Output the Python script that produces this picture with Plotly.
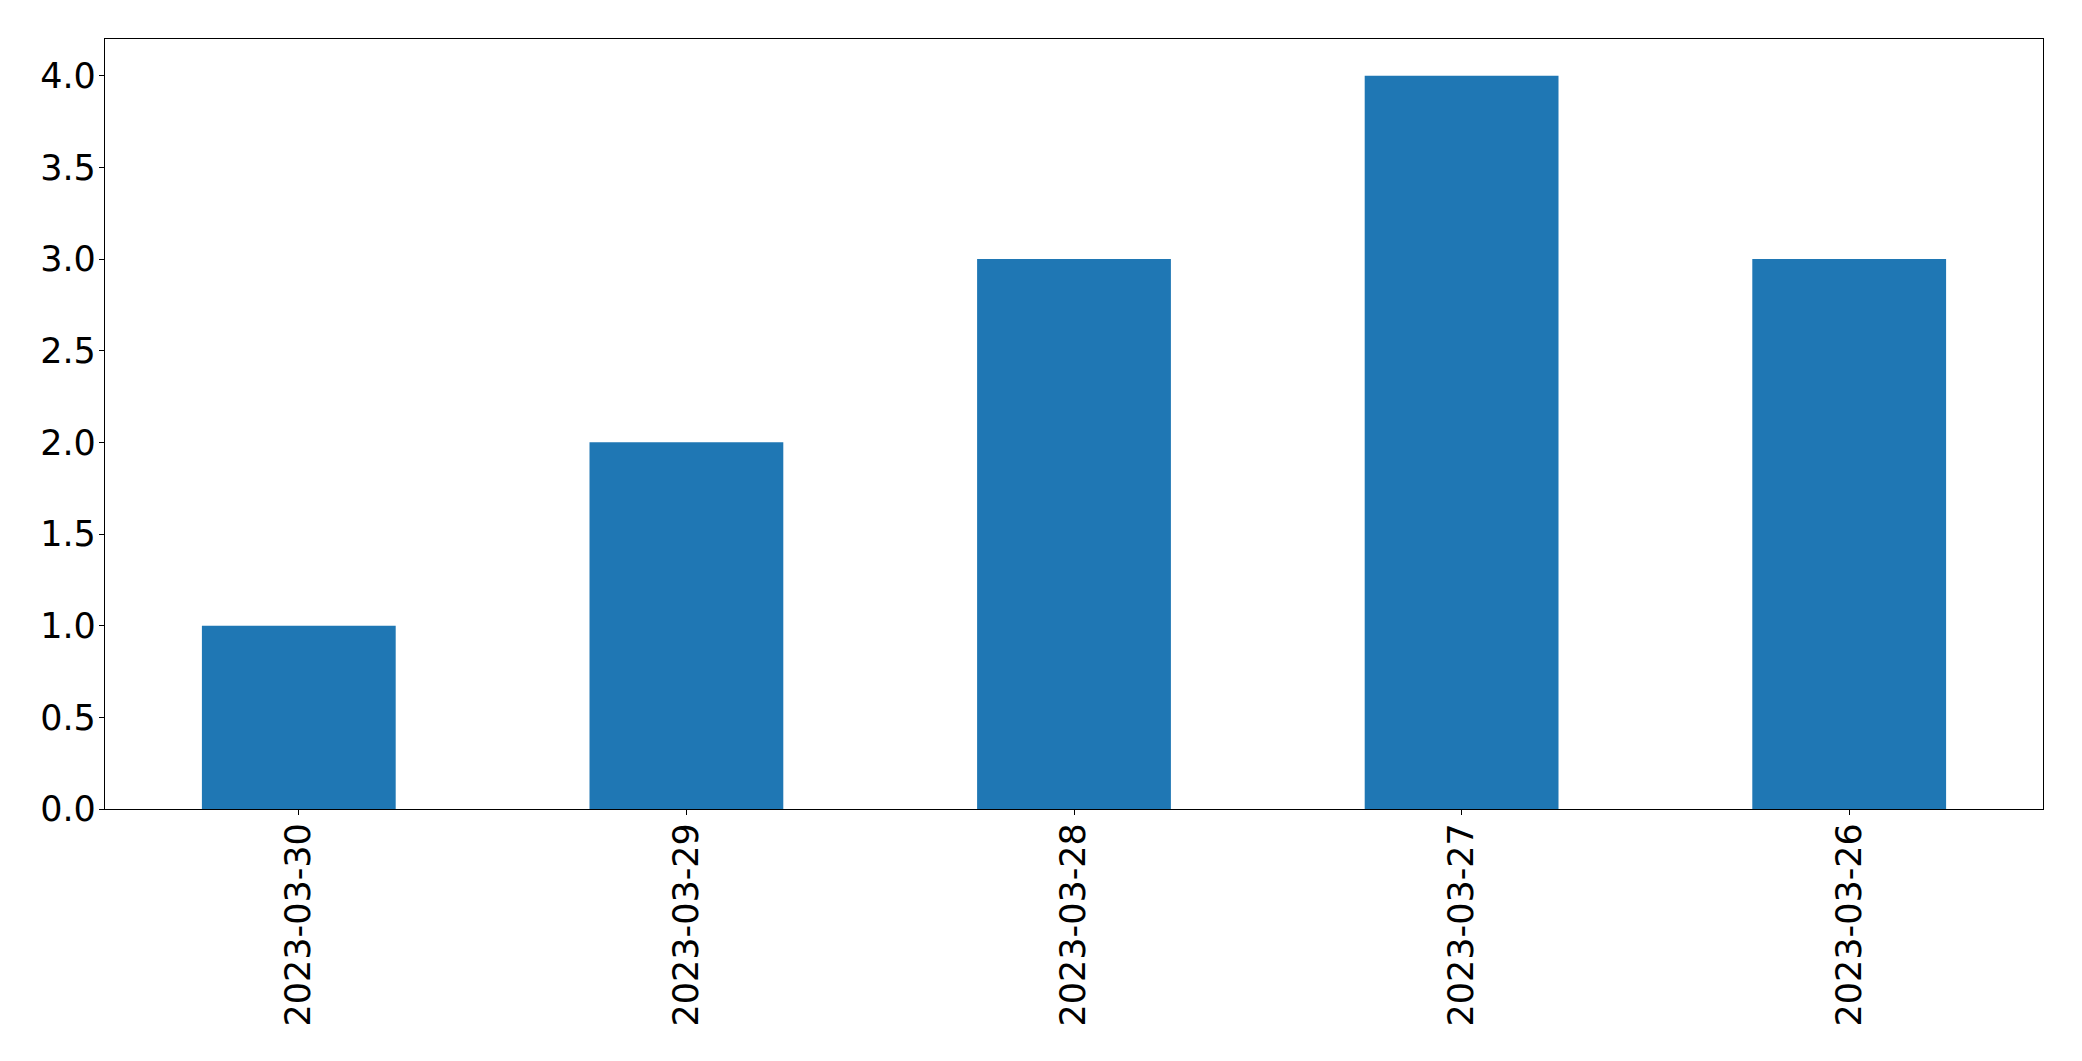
import plotly.graph_objects as go

dates = ["2023-03-30", "2023-03-29", "2023-03-28", "2023-03-27", "2023-03-26"]
counts = [1, 2, 3, 4, 3]
y_ticks = [0.0, 0.5, 1.0, 1.5, 2.0, 2.5, 3.0, 3.5, 4.0]
y_tick_labels = ["0.0", "0.5", "1.0", "1.5", "2.0", "2.5", "3.0", "3.5", "4.0"]

fig = go.Figure(go.Bar(x=dates, y=counts, marker=dict(color="#1f77b4", line=dict(width=0)), width=0.5))

fig.update_layout(
    width=2082, height=1061,
    margin=dict(l=97, r=47, t=31, b=260),
    plot_bgcolor="white", paper_bgcolor="white",
    font=dict(family="DejaVu Sans", size=35, color="black"),
    showlegend=False,
)
fig.update_xaxes(
    type="category", range=[-0.5, 4.5],
    showline=True, linecolor="black", linewidth=1.3, mirror=True,
    ticks="outside", ticklen=5, tickwidth=1.3, tickcolor="black",
    tickangle=-90, showgrid=False, zeroline=False, ticklabelstandoff=-6,
    tickfont=dict(family="DejaVu Sans", size=35, color="black"),
)
fig.update_yaxes(
    range=[0, 4.2], tickvals=y_ticks, ticktext=y_tick_labels,
    showline=True, linecolor="black", linewidth=1.3, mirror=True,
    ticks="outside", ticklen=5, tickwidth=1.3, tickcolor="black",
    showgrid=False, zeroline=False, ticklabelstandoff=-4,
    tickfont=dict(family="DejaVu Sans", size=35, color="black"),
)

fig.write_html("out.html")
